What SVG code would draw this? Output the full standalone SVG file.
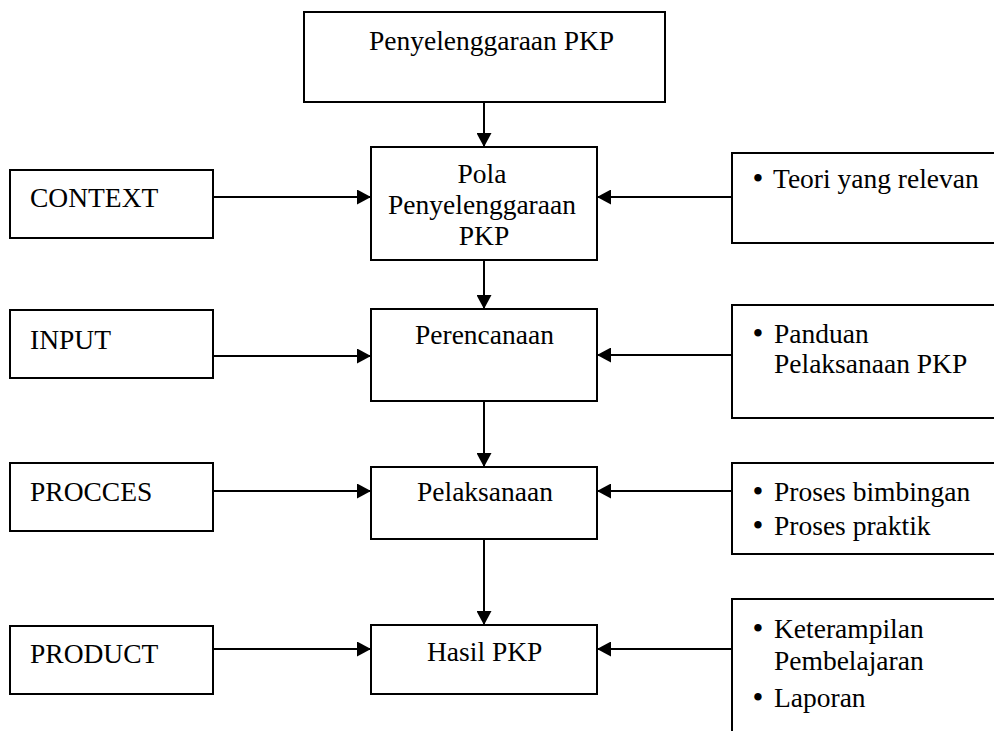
<svg xmlns="http://www.w3.org/2000/svg" width="994" height="731" viewBox="0 0 994 731">
<style>
.box{fill:#fff;stroke:#000;stroke-width:2}
.t{font-family:"Liberation Serif","Times New Roman",serif;font-size:27.5px;fill:#000}
.c{text-anchor:middle}
.b{font-family:"Liberation Serif","Times New Roman",serif;font-size:31px;fill:#000;text-anchor:middle}
.con{stroke:#000;stroke-width:2;fill:none;marker-end:url(#ah)}
</style>
<defs>
<marker id="ah" markerUnits="userSpaceOnUse" markerWidth="15" markerHeight="15" refX="14" refY="7.5" orient="auto">
<path d="M0,0 L14,7.5 L0,15 z" fill="#000"/>
</marker>
</defs>
<rect width="994" height="731" fill="#fff"/>
<g id="connectors">
<path class="con" d="M484,102 L484,147"/>
<path class="con" d="M484,261 L484,309"/>
<path class="con" d="M484,401 L484,467"/>
<path class="con" d="M484,536 L484,625"/>
<path class="con" d="M213,197 L371,197"/>
<path class="con" d="M213,356 L371,356"/>
<path class="con" d="M213,491 L371,491"/>
<path class="con" d="M213,649 L371,649"/>
<path class="con" d="M732,197 L597,197"/>
<path class="con" d="M732,355 L597,355"/>
<path class="con" d="M732,491 L597,491"/>
<path class="con" d="M732,649 L597,649"/>
</g>
<g id="penyelenggaraan">
<rect class="box" x="304" y="12" width="361" height="90"/>
<text class="t" x="369" y="50">Penyelenggaraan PKP</text>
</g>
<g id="pola">
<rect class="box" x="371" y="147" width="226" height="113"/>
<text class="t c" x="482" y="183">Pola</text>
<text class="t c" x="482" y="214">Penyelenggaraan</text>
<text class="t c" x="484" y="245">PKP</text>
</g>
<g id="perencanaan">
<rect class="box" x="371" y="309" width="226" height="92"/>
<text class="t" x="415" y="344">Perencanaan</text>
</g>
<g id="pelaksanaan">
<rect class="box" x="371" y="467" width="226" height="72"/>
<text class="t" x="417" y="501">Pelaksanaan</text>
</g>
<g id="hasil">
<rect class="box" x="371" y="625" width="226" height="69"/>
<text class="t" x="427" y="661">Hasil PKP</text>
</g>
<g id="context">
<rect class="box" x="10" y="170" width="203" height="68"/>
<text class="t" x="30" y="207">CONTEXT</text>
</g>
<g id="input">
<rect class="box" x="10" y="310" width="203" height="68"/>
<text class="t" x="30" y="349">INPUT</text>
</g>
<g id="procces">
<rect class="box" x="10" y="463" width="203" height="68"/>
<text class="t" x="30" y="501">PROCCES</text>
</g>
<g id="product">
<rect class="box" x="10" y="626" width="203" height="68"/>
<text class="t" x="30" y="663">PRODUCT</text>
</g>
<g id="teori">
<rect class="box" x="732" y="153" width="300" height="90"/>
<text class="b" x="758" y="189">•</text>
<text class="t" x="773" y="188">Teori yang relevan</text>
</g>
<g id="panduan">
<rect class="box" x="732" y="305" width="300" height="113"/>
<text class="b" x="758" y="344">•</text>
<text class="t" x="774" y="343">Panduan</text>
<text class="t" x="774" y="373">Pelaksanaan PKP</text>
</g>
<g id="proses">
<rect class="box" x="732" y="463" width="300" height="91"/>
<text class="b" x="758" y="502">•</text>
<text class="t" x="774" y="501">Proses bimbingan</text>
<text class="b" x="758" y="536">•</text>
<text class="t" x="774" y="535">Proses praktik</text>
</g>
<g id="keterampilan">
<rect class="box" x="732" y="599" width="300" height="200"/>
<text class="b" x="758" y="639">•</text>
<text class="t" x="774" y="638">Keterampilan</text>
<text class="t" x="774" y="670">Pembelajaran</text>
<text class="b" x="758" y="708">•</text>
<text class="t" x="774" y="707">Laporan</text>
</g>
</svg>
